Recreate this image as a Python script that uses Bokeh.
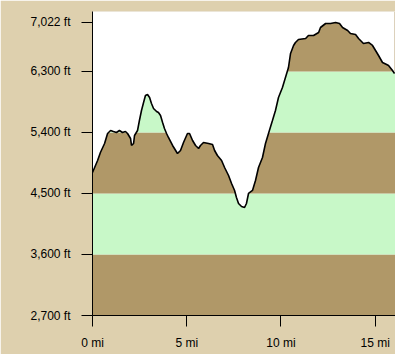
from bokeh.plotting import figure
from bokeh.models import FixedTicker, CustomJSTickFormatter, Range1d
from bokeh.embed import file_html
from bokeh.resources import INLINE

# distance (mi) and elevation (ft) read from the profile
dist = [0.00, 0.27, 0.42, 0.64, 0.80, 0.96, 1.11, 1.27, 1.43, 1.59, 1.75, 1.86, 2.02, 2.07, 2.18,
        2.23, 2.39, 2.49, 2.60, 2.71, 2.81, 2.92, 3.03, 3.13, 3.24, 3.40, 3.50, 3.61, 3.72, 3.82,
        3.93, 4.03, 4.25, 4.51, 4.67, 4.83, 5.04, 5.15, 5.31, 5.47, 5.63, 5.73, 5.89, 6.16, 6.37,
        6.48, 6.63, 6.85, 7.01, 7.22, 7.38, 7.54, 7.64, 7.75, 7.91, 8.07, 8.17, 8.28, 8.49, 8.65,
        8.81, 9.02, 9.18, 9.34, 9.55, 9.71, 9.87, 10.08, 10.24, 10.40, 10.51, 10.67, 10.77, 10.93,
        11.31, 11.46, 11.73, 12.00, 12.10, 12.37, 12.63, 12.90, 13.11, 13.27, 13.54, 13.69, 13.96,
        14.12, 14.38, 14.65, 14.86, 15.02, 15.18, 15.39, 15.61, 15.71, 15.92, 16.03]
elev = [4809, 4986, 5104, 5237, 5385, 5429, 5414, 5399, 5429, 5399, 5414, 5385, 5311, 5208, 5237,
        5355, 5429, 5576, 5724, 5842, 5945, 5960, 5916, 5827, 5753, 5709, 5694, 5650, 5547, 5458,
        5385, 5326, 5208, 5090, 5134, 5252, 5385, 5385, 5281, 5208, 5163, 5208, 5252, 5237, 5222,
        5134, 5060, 4986, 4883, 4765, 4647, 4544, 4441, 4352, 4308, 4293, 4352, 4500, 4544, 4691,
        4883, 5031, 5237, 5385, 5576, 5724, 5916, 6063, 6211, 6358, 6565, 6683, 6727, 6771,
        6786, 6830, 6830, 6874, 6948, 7007, 7007, 7022, 7007, 6948, 6904, 6860, 6845,
        6786, 6712, 6727, 6683, 6609, 6535, 6432, 6402, 6388, 6314, 6270]

band_bottoms = [2700, 3600, 4500, 5400, 6300]
band_tops = [3600, 4500, 5400, 6300, 7184]
band_colors = ["#b09868", "#c8f8c8", "#b09868", "#c8f8c8", "#b09868"]
y_ticks = [2700, 3600, 4500, 5400, 6300, 7022]
x_ticks = [0, 5, 10, 15]

X_END = 16.08
Y_END = 7184
FONT = "Liberation Sans"

p = figure(width=395, height=354, output_backend="svg", toolbar_location=None,
           x_range=Range1d(0, X_END), y_range=Range1d(2700, Y_END),
           min_border_left=92, min_border_right=0, min_border_top=11, min_border_bottom=39)
p.background_fill_color = "white"
p.border_fill_color = "#ded0ae"
p.outline_line_color = None
p.grid.visible = False

p.quad(left=[0] * len(band_bottoms), right=[X_END] * len(band_bottoms),
       bottom=band_bottoms, top=band_tops, fill_color=band_colors, line_color=None)
p.varea(x=dist, y1=elev, y2=[Y_END] * len(dist), fill_color="white")
p.line(dist, elev, line_color="black", line_width=1.6)

for ax in (p.xaxis[0], p.yaxis[0]):
    ax.axis_line_color = "black"
    ax.major_tick_line_color = "black"
    ax.minor_tick_line_color = None
    ax.major_tick_in = 0
    ax.major_tick_out = 11
    ax.major_label_text_font = FONT
    ax.major_label_text_font_size = "12px"
    ax.major_label_text_color = "black"

p.yaxis.ticker = FixedTicker(ticks=y_ticks)
p.yaxis.formatter = CustomJSTickFormatter(code="return Math.round(tick).toLocaleString('en-US') + ' ft';")
p.yaxis.major_label_standoff = 11
p.xaxis.ticker = FixedTicker(ticks=x_ticks)
p.xaxis.formatter = CustomJSTickFormatter(code="return tick + ' mi';")
p.xaxis.major_label_standoff = 9

open("out.html", "w").write(file_html(p, INLINE))
